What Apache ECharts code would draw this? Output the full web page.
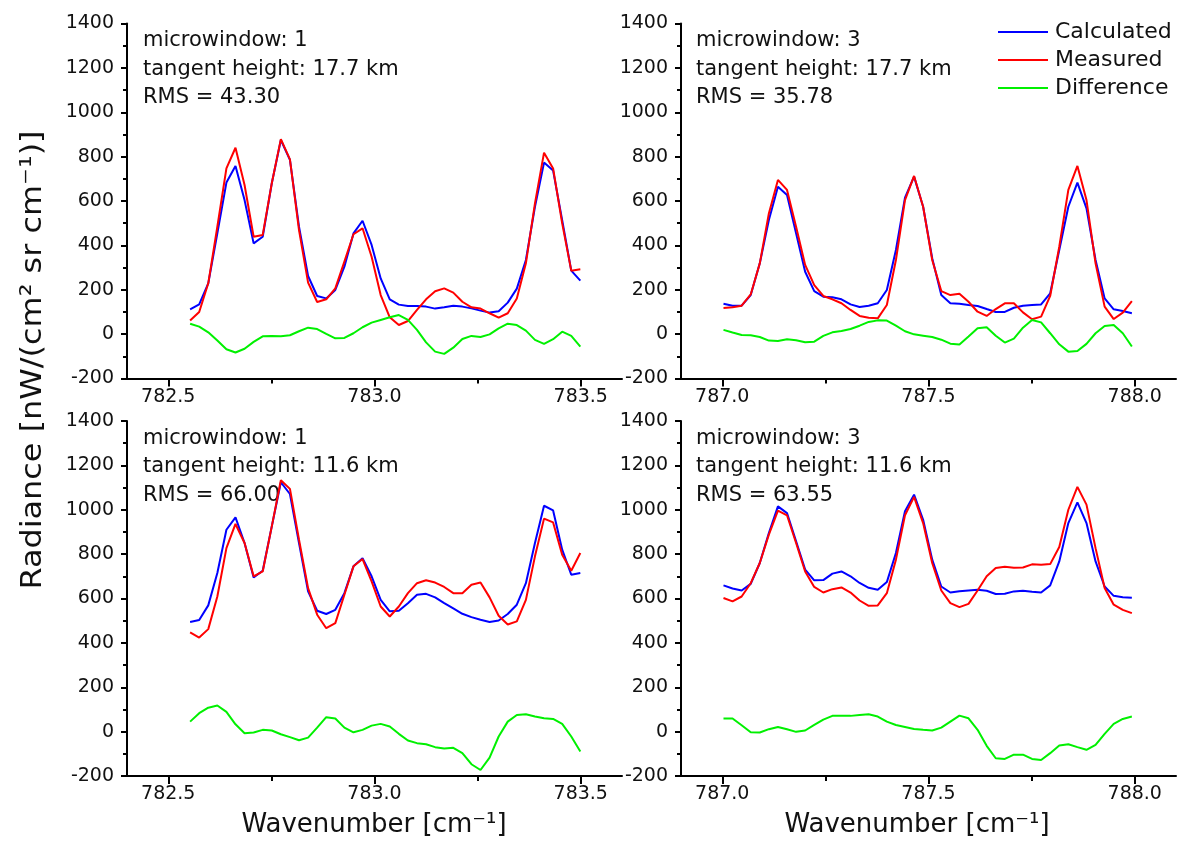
<!DOCTYPE html>
<html>
<head>
<meta charset="utf-8">
<script src="https://cdn.jsdelivr.net/npm/echarts@6/dist/echarts.min.js"></script>
<style>
html,body{margin:0;padding:0;background:#fff;}
#main{width:1184px;height:841px;}
</style>
</head>
<body>
<div id="main"></div>
<script>
// ---------- data ----------
const wnLeft = [782.553, 782.575, 782.597, 782.619, 782.641, 782.663, 782.685, 782.707, 782.729, 782.751,
  782.773, 782.795, 782.817, 782.839, 782.861, 782.883, 782.905, 782.927, 782.949, 782.971,
  782.993, 783.015, 783.037, 783.059, 783.081, 783.103, 783.125, 783.147, 783.169, 783.191,
  783.213, 783.235, 783.257, 783.279, 783.301, 783.323, 783.345, 783.367, 783.389, 783.411,
  783.433, 783.455, 783.477, 783.499];
const wnRight = [787.003, 787.025, 787.047, 787.069, 787.091, 787.113, 787.135, 787.157, 787.179, 787.201,
  787.223, 787.245, 787.267, 787.289, 787.311, 787.333, 787.355, 787.377, 787.399, 787.421,
  787.443, 787.465, 787.487, 787.509, 787.531, 787.553, 787.575, 787.597, 787.619, 787.641,
  787.663, 787.685, 787.707, 787.729, 787.751, 787.773, 787.795, 787.817, 787.839, 787.861,
  787.883, 787.905, 787.927, 787.949, 787.971, 787.993];

// microwindow 1, tangent height 17.7 km
const calcTL = [112, 134, 229, 454, 683, 758, 604, 409, 439, 680, 875, 785, 484, 262, 172, 161, 199, 304, 454, 511,
  402, 251, 157, 133, 127, 127, 124, 115, 121, 128, 124, 116, 106, 97, 103, 142, 205, 334, 574, 773,
  737, 514, 286, 241];
const measTL = [61, 100, 229, 484, 747, 840, 672, 439, 447, 680, 879, 788, 469, 232, 145, 157, 206, 327, 450, 477,
  349, 176, 76, 41, 59, 109, 157, 193, 206, 187, 146, 121, 115, 94, 74, 94, 161, 319, 589, 818,
  747, 499, 286, 292];
const diffTL = [47, 34, 8, -29, -68, -83, -66, -35, -10, -8, -10, -5, 13, 29, 23, 1, -19, -17, 4, 31,
  52, 64, 76, 86, 64, 19, -37, -79, -89, -61, -22, -8, -13, -1, 26, 47, 41, 16, -26, -44,
  -23, 11, -8, -56];

// microwindow 3, tangent height 17.7 km
const calcTR = [137, 128, 128, 176, 319, 514, 664, 627, 454, 281, 194, 169, 166, 157, 134, 122, 128, 139, 199, 379,
  615, 710, 574, 342, 176, 139, 137, 131, 127, 113, 100, 100, 119, 128, 131, 134, 184, 379, 574, 683,
  567, 334, 161, 112, 104, 94];
const measTR = [118, 121, 128, 179, 319, 544, 695, 650, 484, 312, 221, 172, 157, 139, 109, 82, 74, 71, 131, 334,
  604, 713, 574, 334, 194, 176, 182, 146, 101, 82, 113, 139, 139, 98, 67, 79, 172, 394, 650, 758,
  604, 319, 124, 68, 97, 149];
const diffTR = [19, 7, -4, -5, -13, -29, -31, -23, -28, -37, -34, -8, 8, 14, 23, 38, 55, 62, 61, 38,
  13, -1, -7, -13, -25, -43, -47, -11, 26, 31, -7, -38, -20, 29, 64, 53, 4, -46, -79, -76,
  -44, 4, 37, 41, 4, -56];

// microwindow 1, tangent height 11.6 km
const calcBL = [494, 503, 569, 715, 910, 966, 850, 695, 725, 925, 1124, 1071, 850, 632, 545, 530, 549, 624, 745, 782,
  700, 594, 542, 545, 579, 617, 621, 605, 579, 555, 531, 516, 504, 494, 501, 530, 572, 669, 850, 1018,
  997, 820, 707, 715];
const measBL = [447, 424, 462, 609, 827, 936, 850, 700, 722, 925, 1133, 1094, 865, 647, 527, 466, 489, 617, 745, 778,
  677, 564, 519, 564, 624, 669, 682, 672, 652, 624, 624, 662, 672, 605, 522, 483, 497, 594, 790, 960,
  943, 797, 725, 805];
const diffBL = [45, 83, 108, 118, 89, 33, -7, -4, 8, 5, -12, -25, -39, -27, 18, 65, 59, 18, -3, 8,
  27, 35, 23, -10, -40, -52, -57, -70, -76, -73, -97, -147, -173, -117, -22, 45, 75, 78, 68, 60,
  57, 35, -22, -90];

// microwindow 3, tangent height 11.6 km
const calcBR = [659, 645, 636, 666, 760, 895, 1015, 985, 858, 730, 682, 683, 712, 722, 700, 670, 648, 639, 674, 805,
  993, 1068, 955, 775, 654, 627, 633, 636, 639, 635, 620, 621, 632, 635, 630, 627, 659, 767, 940, 1033,
  940, 767, 654, 612, 606, 603];
const measBR = [602, 587, 609, 669, 760, 888, 996, 975, 850, 722, 652, 627, 642, 650, 627, 591, 567, 569, 624, 775,
  975, 1058, 940, 760, 636, 579, 561, 576, 636, 700, 737, 743, 739, 740, 754, 752, 755, 832, 1000, 1103,
  1023, 827, 647, 572, 549, 534];
const diffBR = [59, 59, 29, -3, -4, 11, 21, 11, -1, 5, 30, 54, 71, 71, 71, 75, 78, 68, 45, 30,
  21, 12, 8, 5, 18, 45, 72, 60, 8, -64, -120, -123, -104, -104, -123, -128, -97, -63, -57, -70,
  -82, -60, -10, 35, 57, 68];

const xMajorLeft = [782.5, 783.0, 783.5];
const xMinorLeft = [782.75, 783.25];
const xMajorRight = [787.0, 787.5, 788.0];
const xMinorRight = [787.25, 787.75];

const seriesNames = ['Calculated', 'Measured', 'Difference'];
const seriesColors = ['#0000ff', '#ff0000', '#00f000'];

const panelText = [
  ['microwindow: 1', 'tangent height: 17.7 km', 'RMS = 43.30'],
  ['microwindow: 3', 'tangent height: 17.7 km', 'RMS = 35.78'],
  ['microwindow: 1', 'tangent height: 11.6 km', 'RMS = 66.00'],
  ['microwindow: 3', 'tangent height: 11.6 km', 'RMS = 63.55']
];

// ---------- layout ----------
const FONT = "'DejaVu Sans', sans-serif";
const grids = [
  { left: 127, top: 23.5, width: 495, height: 355 },
  { left: 681, top: 23.5, width: 495, height: 355 },
  { left: 127, top: 421, width: 495, height: 355 },
  { left: 681, top: 421, width: 495, height: 355 }
];
const panels = [
  { x: wnLeft,  calc: calcTL, meas: measTL, diff: diffTL, xmin: 782.4, xmax: 783.6, major: xMajorLeft,  minor: xMinorLeft },
  { x: wnRight, calc: calcTR, meas: measTR, diff: diffTR, xmin: 786.9, xmax: 788.1, major: xMajorRight, minor: xMinorRight },
  { x: wnLeft,  calc: calcBL, meas: measBL, diff: diffBL, xmin: 782.4, xmax: 783.6, major: xMajorLeft,  minor: xMinorLeft },
  { x: wnRight, calc: calcBR, meas: measBR, diff: diffBR, xmin: 786.9, xmax: 788.1, major: xMajorRight, minor: xMinorRight }
];

const axisLine = { show: true, onZero: false, lineStyle: { color: '#000', width: 2 } };
const xAxes = [], yAxes = [], series = [], graphics = [];

panels.forEach((p, i) => {
  xAxes.push({
    type: 'value', gridIndex: i, min: p.xmin, max: p.xmax, position: 'bottom',
    axisLine: axisLine,
    axisTick: { show: true, inside: false, length: 8, customValues: p.major, lineStyle: { color: '#000', width: 2 } },
    axisLabel: { show: true, customValues: p.major, margin: 9, color: '#111', fontFamily: FONT, fontSize: 19,
      formatter: v => v.toFixed(1) },
    splitLine: { show: false }
  });
  yAxes.push({
    type: 'value', gridIndex: i, min: -200, max: 1400, interval: 200,
    axisLine: axisLine,
    axisTick: { show: true, inside: false, length: 6, lineStyle: { color: '#000', width: 2 } },
    minorTick: { show: true, splitNumber: 2, length: 4, lineStyle: { color: '#000', width: 2 } },
    axisLabel: { margin: 13, color: '#111', fontFamily: FONT, fontSize: 19, formatter: v => String(v) },
    splitLine: { show: false }
  });
  [p.calc, p.meas, p.diff].forEach((vals, k) => {
    series.push({
      type: 'line', name: seriesNames[k], xAxisIndex: i, yAxisIndex: i,
      data: p.x.map((x, j) => [x, vals[j]]),
      symbol: 'none', showSymbol: false,
      lineStyle: { color: seriesColors[k], width: 2 },
      itemStyle: { color: seriesColors[k] },
      animation: false, z: 2 + k
    });
  });
  const g = grids[i];
  const tx = (i % 2 === 0) ? g.left + 16 : g.left + 15;
  panelText[i].forEach((t, k) => {
    graphics.push({
      type: 'text', x: tx, y: g.top + 17.5 + 28.5 * k,
      style: { text: t, font: '21px ' + FONT, fill: '#111', align: 'left', verticalAlign: 'middle' }
    });
  });
});
// minor x ticks
panels.forEach((p, i) => {
  xAxes.push({
    type: 'value', gridIndex: i, min: p.xmin, max: p.xmax, position: 'bottom', offset: 0,
    axisLine: { show: false, onZero: false },
    axisTick: { show: true, inside: false, length: 5, customValues: p.minor, lineStyle: { color: '#000', width: 2 } },
    axisLabel: { show: false },
    splitLine: { show: false }
  });
});

// axis titles
graphics.push({
  type: 'text', x: 33, y: 360, rotation: Math.PI / 2, scaleX: 1.1,
  style: { text: 'Radiance [nW/(cm² sr cm⁻¹)]', font: '29px ' + FONT, fill: '#111', align: 'center', verticalAlign: 'middle' }
});
graphics.push({
  type: 'text', x: 374, y: 825,
  style: { text: 'Wavenumber [cm⁻¹]', font: '26px ' + FONT, fill: '#111', align: 'center', verticalAlign: 'middle' }
});
graphics.push({
  type: 'text', x: 917, y: 825,
  style: { text: 'Wavenumber [cm⁻¹]', font: '26px ' + FONT, fill: '#111', align: 'center', verticalAlign: 'middle' }
});

const chart = echarts.init(document.getElementById('main'), null, { renderer: 'canvas' });
chart.setOption({
  animation: false,
  backgroundColor: '#fff',
  grid: grids,
  xAxis: xAxes,
  yAxis: yAxes,
  legend: {
    data: seriesNames.map((n, k) => ({ name: n, icon: 'rect', itemStyle: { color: seriesColors[k] } })),
    orient: 'vertical', left: 993, top: 16,
    itemWidth: 50, itemHeight: 2, itemGap: 6,
    textStyle: { fontFamily: FONT, fontSize: 22, color: '#111', padding: [0, 0, 0, 2] }
  },
  series: series,
  graphic: graphics
});
</script>
</body>
</html>
